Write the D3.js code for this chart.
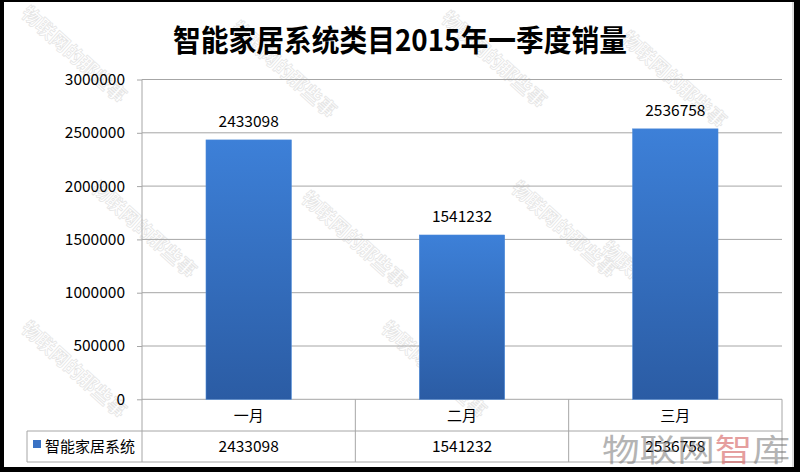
<!DOCTYPE html>
<html><head><meta charset="utf-8">
<script src="https://cdn.jsdelivr.net/npm/d3@7/dist/d3.min.js"></script>
<style>html,body{margin:0;padding:0;background:#000;}svg{display:block;}</style>
</head><body>
<script>
const title = "智能家居系统类目2015年一季度销量";
const seriesName = "智能家居系统";
const months = ["一月", "二月", "三月"];
const sales = [2433098, 1541232, 2536758];
const yTicks = [0, 500000, 1000000, 1500000, 2000000, 2500000, 3000000];

const W = 800, H = 472;
const font = "'Noto Sans CJK SC','Noto Sans',sans-serif";
const svg = d3.select("body").append("svg").attr("width", W).attr("height", H);

const defs = svg.append("defs");
const grad = defs.append("linearGradient").attr("id", "barGrad").attr("x1", 0).attr("y1", 0).attr("x2", 0).attr("y2", 1);
grad.append("stop").attr("offset", "0%").attr("stop-color", "#3d80d8");
grad.append("stop").attr("offset", "100%").attr("stop-color", "#2b5ca4");

// frame
svg.append("rect").attr("width", W).attr("height", H).attr("fill", "#000");
svg.append("rect").attr("x", 4).attr("y", 2).attr("width", 790).attr("height", 465).attr("fill", "#fff");
svg.append("line").attr("x1", 793).attr("x2", 793).attr("y1", 2).attr("y2", 467).attr("stroke", "#bbb");

// watermarks (decorative, faint)
const wmG = svg.append("g");
const wmPos = [[20, 15], [230, 30], [440, 20], [620, 40], [90, 190], [300, 200], [510, 190], [20, 330], [380, 330], [600, 250]];
wmPos.forEach(p => {
  wmG.append("text").attr("transform", `translate(${p[0]},${p[1]}) rotate(42)`)
    .attr("font-family", font).attr("font-size", 19).attr("font-weight", "bold")
    .attr("fill", "none").attr("stroke", "#e4e4e4").attr("stroke-width", 0.7)
    .text("物联网的那些事");
});

const x = d3.scaleBand().domain(months).range([142, 782]).paddingInner(0).paddingOuter(0);
const y = d3.scaleLinear().domain([0, 3000000]).range([399.3, 79.5]);

// gridlines + y axis
const yAxis = d3.axisLeft(y).tickValues(yTicks).tickSize(5).tickPadding(12).tickFormat(d3.format("d"));
const gy = svg.append("g").attr("transform", "translate(142,0)").call(yAxis);
gy.select(".domain").remove();
gy.selectAll(".tick line").attr("stroke", "#a6a6a6");
gy.selectAll(".tick text").attr("font-family", font).attr("font-size", 15.5).attr("fill", "#000");
svg.append("g").selectAll("line").data(yTicks).join("line")
  .attr("x1", 142).attr("x2", 782).attr("y1", d => y(d)).attr("y2", d => y(d))
  .attr("stroke", "#a6a6a6").attr("stroke-width", 1);

// table
const rowTop = y(0), rowMid = 431, rowBot = 462;
const tl = svg.append("g").attr("stroke", "#a6a6a6").attr("stroke-width", 1);
tl.append("line").attr("x1", 142).attr("x2", 142).attr("y1", y(3000000)).attr("y2", rowBot);
months.forEach(m => {
  tl.append("line").attr("x1", x(m) + x.bandwidth()).attr("x2", x(m) + x.bandwidth()).attr("y1", rowTop).attr("y2", rowBot);
});
tl.append("line").attr("x1", 27).attr("x2", 782).attr("y1", rowMid).attr("y2", rowMid);
tl.append("line").attr("x1", 27).attr("x2", 782).attr("y1", rowBot).attr("y2", rowBot);
tl.append("line").attr("x1", 27).attr("x2", 27).attr("y1", rowMid).attr("y2", rowBot);

// bars
const bw = x.bandwidth() * 0.4;
svg.append("g").selectAll("rect").data(sales).join("rect")
  .attr("x", (d, i) => x(months[i]) + (x.bandwidth() - bw) / 2)
  .attr("y", d => y(d)).attr("width", bw).attr("height", d => y(0) - y(d))
  .attr("fill", "url(#barGrad)").attr("stroke", "#4a88d8").attr("stroke-width", 0.6);

// value labels
svg.append("g").selectAll("text").data(sales).join("text")
  .attr("x", (d, i) => x(months[i]) + x.bandwidth() / 2).attr("y", d => y(d) - 13)
  .attr("text-anchor", "middle").attr("font-family", font).attr("font-size", 15.5).attr("fill", "#000")
  .text(d => d);

// table texts
svg.append("g").selectAll("text").data(months).join("text")
  .attr("x", d => x(d) + x.bandwidth() / 2).attr("y", 421)
  .attr("text-anchor", "middle").attr("font-family", font).attr("font-size", 15).attr("fill", "#000")
  .text(d => d);
svg.append("g").selectAll("text").data(sales).join("text")
  .attr("x", (d, i) => x(months[i]) + x.bandwidth() / 2).attr("y", 452)
  .attr("text-anchor", "middle").attr("font-family", font).attr("font-size", 15.5).attr("fill", "#000")
  .text(d => d);
svg.append("rect").attr("x", 33).attr("y", 440).attr("width", 8).attr("height", 8).attr("fill", "#3a72c4");
svg.append("text").attr("x", 45).attr("y", 452).attr("font-family", font).attr("font-size", 15).attr("fill", "#000").text(seriesName);

// title
svg.append("text").attr("x", 400).attr("y", 51).attr("text-anchor", "middle")
  .attr("font-family", font).attr("font-size", 30).attr("font-weight", "bold").attr("fill", "#000")
  .attr("textLength", 454).attr("lengthAdjust", "spacingAndGlyphs")
  .text(title);

// logo watermark
const logo = svg.append("text").attr("x", 602).attr("y", 461).attr("font-family", font).attr("font-size", 31)
  .attr("opacity", 0.55).attr("textLength", 188).attr("lengthAdjust", "spacingAndGlyphs");
logo.append("tspan").attr("fill", "#777").text("物联网");
logo.append("tspan").attr("fill", "#d05050").text("智");
logo.append("tspan").attr("fill", "#777").text("库");
</script>
</body></html>
